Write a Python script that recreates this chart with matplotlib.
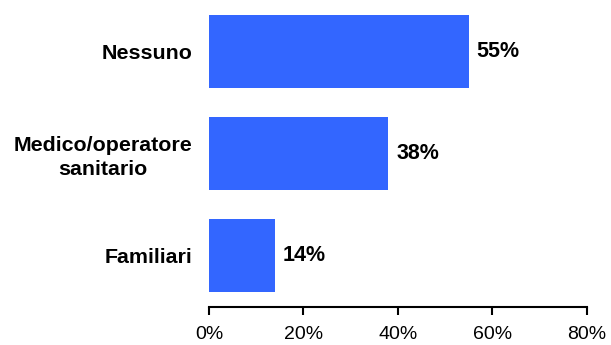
import matplotlib
matplotlib.use("Agg")
import matplotlib.pyplot as plt
from matplotlib.ticker import FuncFormatter

categories = ["Familiari", "Medico/operatore\nsanitario", "Nessuno"]
values = [14, 38, 55]
xticks = [0, 20, 40, 60, 80]

plt.rcParams['font.family'] = ['Liberation Sans', 'DejaVu Sans']

fig = plt.figure(figsize=(6.11, 3.45), dpi=100)
ax = fig.add_axes([0.342, 0.113, 0.618, 0.886])

ypos = range(len(categories))
ax.barh(ypos, values, height=0.716, color="#3366ff")
for y, v in zip(ypos, values):
    ax.text(v + 1.7, y, f"{v}%", va="center", ha="left",
            fontsize=15.5, fontweight="bold")

ax.set_xlim(0, 80)
ax.set_ylim(-0.5, 2.5)
ax.set_xticks(xticks)
ax.xaxis.set_major_formatter(FuncFormatter(lambda x, p: f"{x:.0f}%"))
ax.set_yticks(list(ypos))
ax.set_yticklabels(categories, fontweight="bold", fontsize=15.4,
                   multialignment="center", linespacing=1.3)
ax.tick_params(axis="y", length=0, pad=12)
ax.tick_params(axis="x", length=5.5, width=1.5, labelsize=14, pad=8)

for s in ["left", "right", "top"]:
    ax.spines[s].set_visible(False)
ax.spines["bottom"].set_linewidth(1.5)
ax.spines["bottom"].set_position(("outward", 1))

fig.savefig("out.png", dpi=100)
